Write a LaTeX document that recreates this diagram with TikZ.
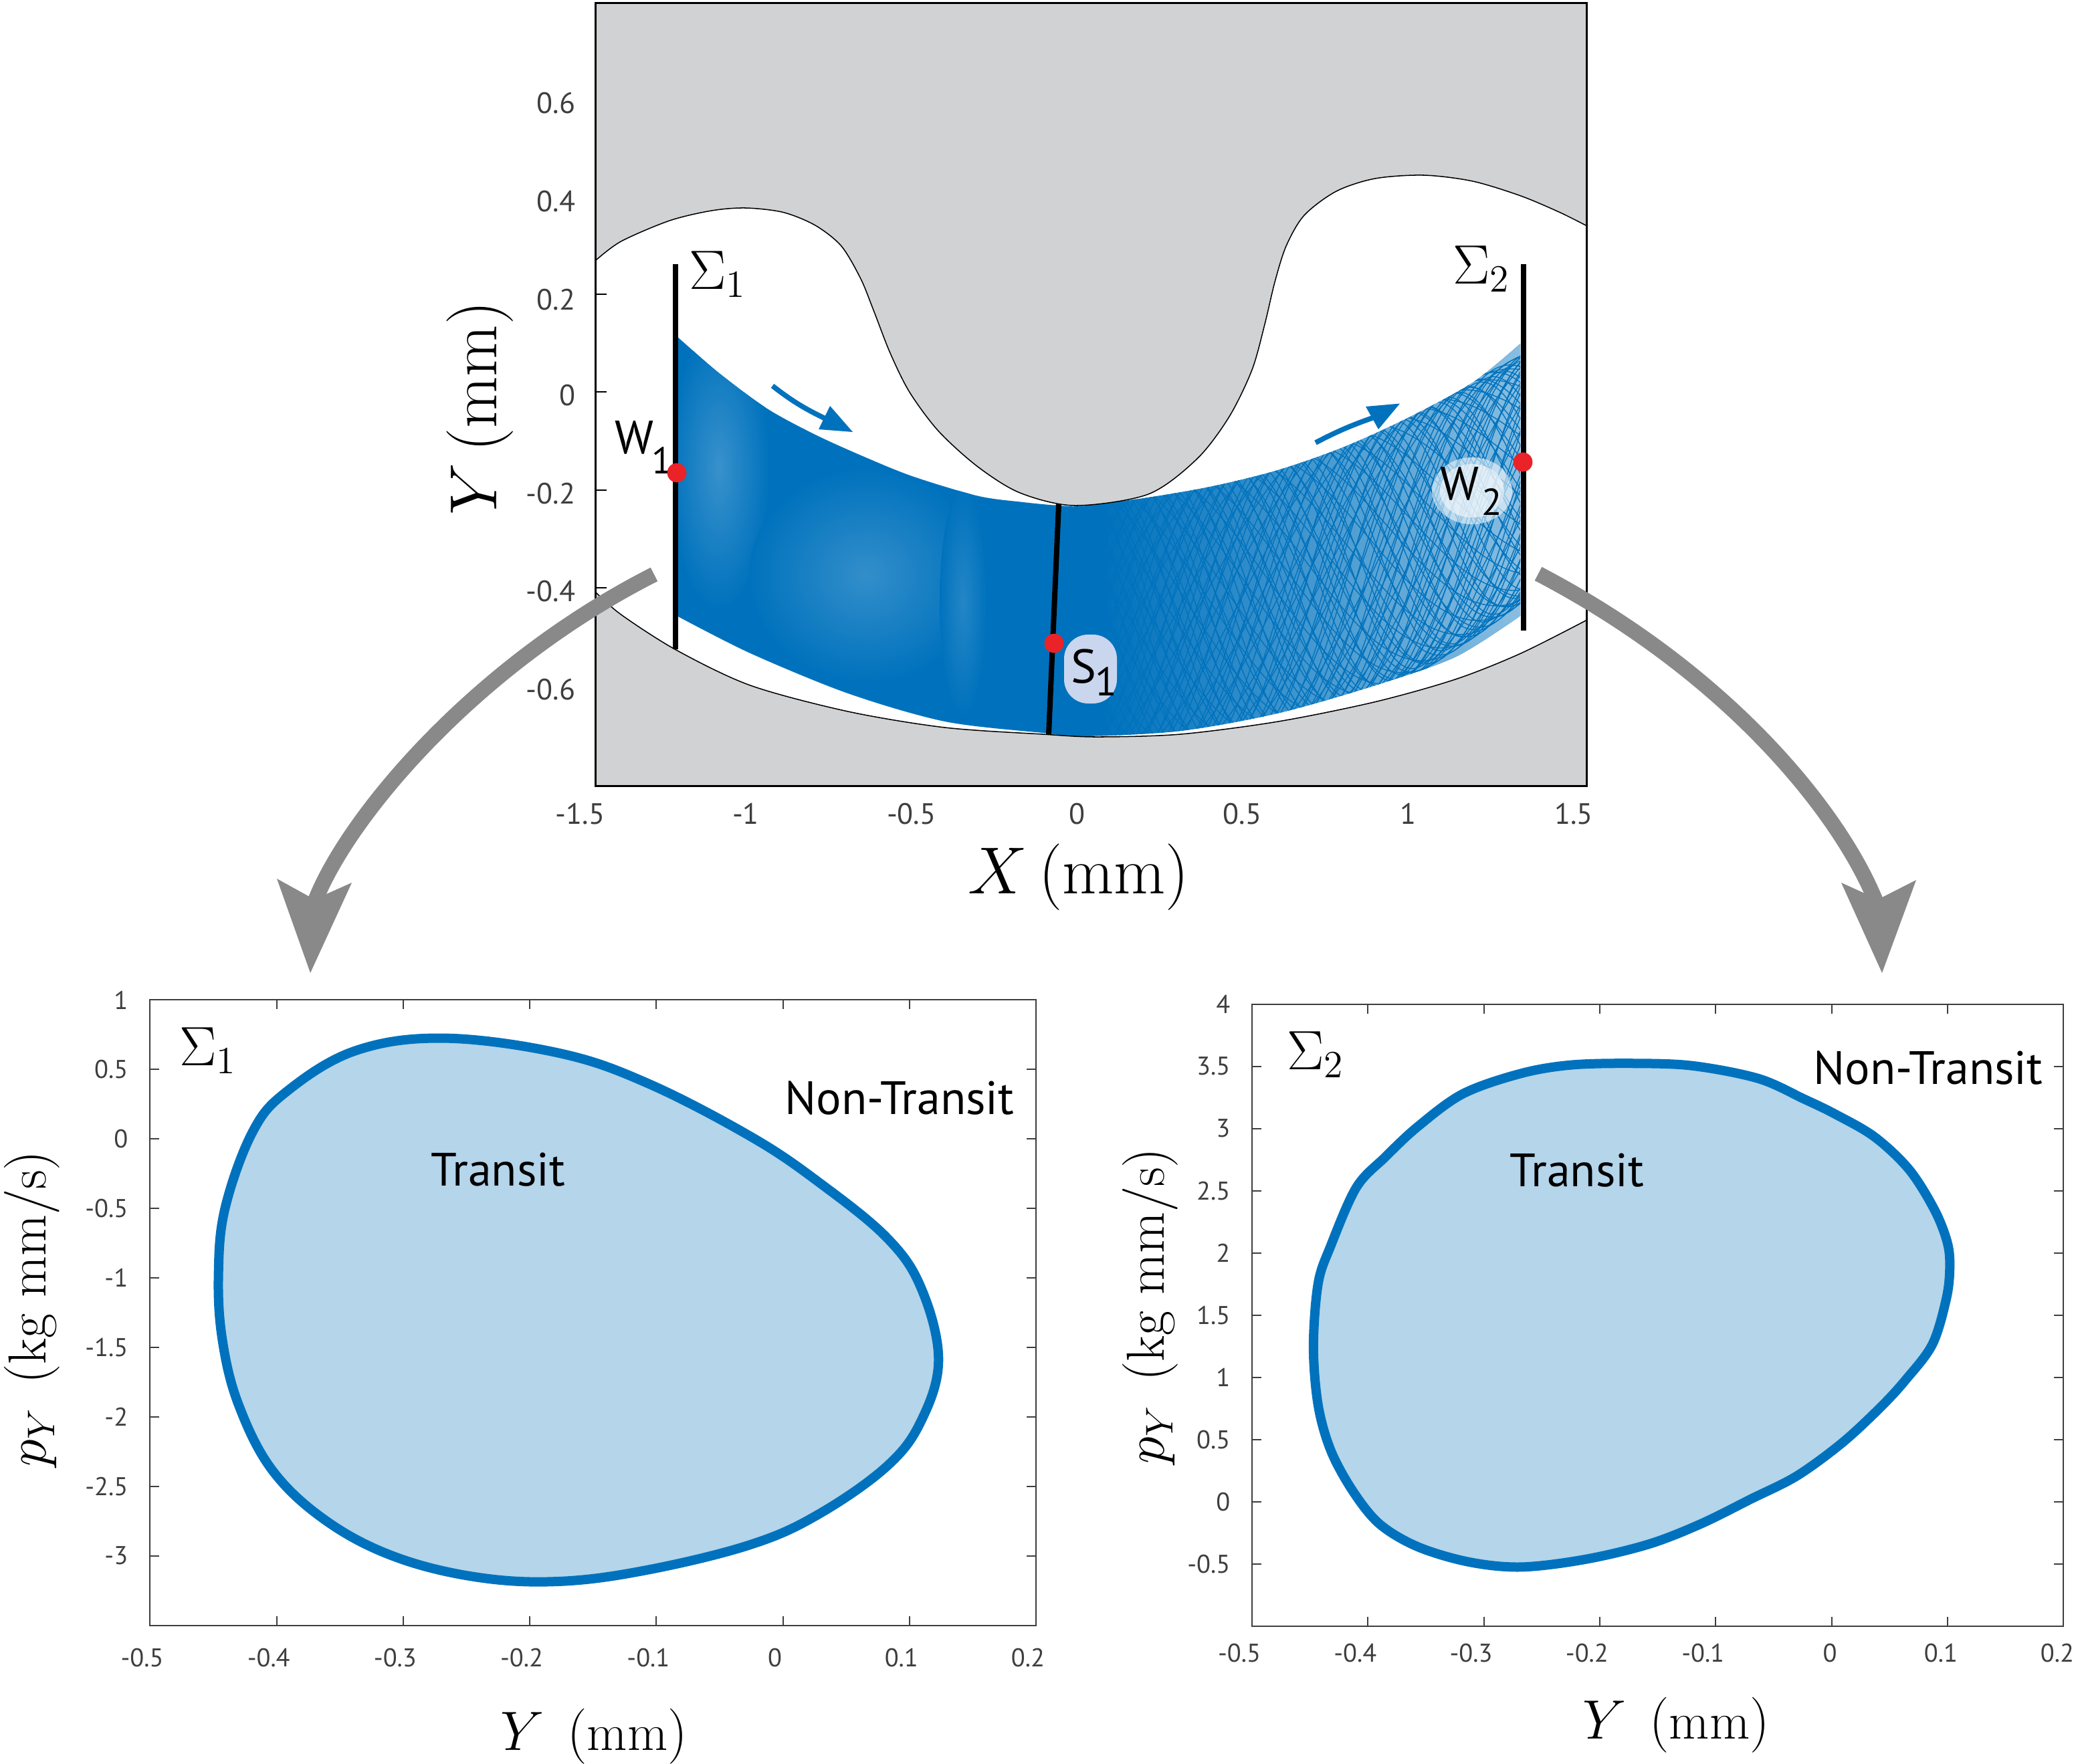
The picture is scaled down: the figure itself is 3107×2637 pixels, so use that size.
\documentclass[tikz,border=0pt]{standalone}
\usepackage{fontspec}
\setsansfont{PT Sans}
\definecolor{mblue}{RGB}{0,114,189}
\definecolor{lblue}{RGB}{180,213,234}
\definecolor{wallgray}{RGB}{209,210,212}
\definecolor{arrgray}{RGB}{137,137,137}
\definecolor{axgray}{RGB}{62,62,62}
\definecolor{dotred}{RGB}{233,35,40}
\definecolor{sbg}{RGB}{202,214,238}
\newcommand{\bandpath}{plot[smooth,tension=0.5] coordinates {(1011,502) (1074,557) (1147,611) (1219,650) (1292,683) (1365,712.5) (1462,741.6) (1530,751) (1583,756) (1620,756.5) (1717,744) (1814,727) (1911,703) (2008,669) (2105,625) (2202,572) (2273,514)} -- plot[smooth,tension=0.5] coordinates {(2273,921) (2177,982) (2056,1025) (1911,1066.5) (1765,1093) (1620,1101) (1559,1096) (1413,1079) (1268,1037) (1122,977) (1012,921)} -- cycle}
\tikzset{
  tlab/.style={font=\sffamily\fontsize{11}{13}\selectfont, text=axgray, inner sep=0pt},
  blab/.style={font=\sffamily\fontsize{9.6}{11}\selectfont, text=axgray, inner sep=0pt},
  region/.style={font=\sffamily\fontsize{17.5}{20}\selectfont, inner sep=0pt},
  wletter/.style={font=\sffamily\fontsize{17.5}{20}\selectfont, inner sep=0pt},
  wsubs/.style={font=\sffamily\fontsize{14}{16}\selectfont, inner sep=0pt},
  bound/.style={draw=black, line width=0.38pt},
  secline/.style={draw=black, line width=2pt},
  reddot/.style={circle, fill=dotred, inner sep=0pt, minimum size=7.2pt},
  bigarrow/.style={draw=arrgray, line width=5.75pt},
  axframe/.style={draw=axgray, line width=0.5pt},
  phasecurve/.style={fill=lblue, draw=mblue, line width=3.5pt, line join=round},
  trajline/.style={draw=mblue, line width=0.34pt},
}
\begin{document}
\begin{tikzpicture}[x=0.25pt,y=-0.25pt]
\useasboundingbox (0,0) rectangle (3107,2637);

% ================= top plot =================
\fill[wallgray] (890,4) rectangle (2372,1175);
\fill[white] plot[smooth,tension=0.5] coordinates {(890,390) (928.5,361) (1001,330) (1064,315) (1115,311) (1171,317.5) (1219,337) (1258,368) (1287,417) (1306.5,465) (1331,528) (1360,586.5) (1403.5,645) (1462,698) (1525,737) (1607,756) (1717,739) (1790,686) (1838,623) (1872,553) (1891,485) (1906,422) (1923,368) (1950,322) (1998,286) (2056,267) (2129,262) (2202,271) (2274,293) (2332,317.5) (2371,337)}
  -- plot[smooth,tension=0.5] coordinates {(2371,928) (2274,977) (2177,1015.6) (2056,1049.6) (1911,1079) (1765,1098) (1640,1102) (1559,1098) (1413,1088) (1268,1064) (1122,1025) (1011,972) (928.5,919) (890,885)} -- cycle;
\foreach \yy in {440,586,732.6,879} \draw[line width=0.5pt] (890,\yy) -- ++(4.25pt,0pt);

% trajectory band
\fill[mblue] \bandpath;
\begin{scope}
  \clip \bandpath;
  \shade[inner color=mblue!78!white, outer color=mblue] (1075,700) ellipse (75 and 210);
  \shade[inner color=mblue!80!white, outer color=mblue] (1295,860) ellipse (175 and 160);
  \shade[inner color=mblue!86!white, outer color=mblue] (1440,900) ellipse (35 and 170);
  \shade[left color=mblue, middle color=mblue!72!white, right color=mblue!45!white] (1650,300) rectangle (2290,1200);
  \foreach \ph in {0,14,...,346} {
    \draw[trajline] plot[domain=-0.08:1.03, samples=50, smooth] ({1620+653*\x},{929-211.5*\x*\x+1.3*(173-30.5*\x*\x)*sin(\ph+430*\x)});
    \draw[trajline] plot[domain=-0.08:1.03, samples=50, smooth] ({1620+653*\x},{929-211.5*\x*\x+1.3*(173-30.5*\x*\x)*sin(\ph+7+290*\x)});
    \draw[trajline] plot[domain=-0.08:1.03, samples=50, smooth] ({1620+653*\x},{929-211.5*\x*\x+1.25*(173-30.5*\x*\x)*sin(\ph+3+560*\x)});
  }
\end{scope}

% channel walls
\draw[bound] plot[smooth,tension=0.5] coordinates {(890,390) (928.5,361) (1001,330) (1064,315) (1115,311) (1171,317.5) (1219,337) (1258,368) (1287,417) (1306.5,465) (1331,528) (1360,586.5) (1403.5,645) (1462,698) (1525,737) (1607,756) (1717,739) (1790,686) (1838,623) (1872,553) (1891,485) (1906,422) (1923,368) (1950,322) (1998,286) (2056,267) (2129,262) (2202,271) (2274,293) (2332,317.5) (2371,337)};
\draw[bound] plot[smooth,tension=0.5] coordinates {(2371,928) (2274,977) (2177,1015.6) (2056,1049.6) (1911,1079) (1765,1098) (1640,1102) (1559,1098) (1413,1088) (1268,1064) (1122,1025) (1011,972) (928.5,919) (890,885)};
\draw[line width=0.75pt] (890,4) rectangle (2372,1175);

% sections
\coordinate (s1top) at (1010,395); \coordinate (s1bot) at (1010,971);
\coordinate (s2top) at (2278,395); \coordinate (s2bot) at (2278,943);
\coordinate (sstop) at (1583,754); \coordinate (ssbot) at (1568,1098);
\draw[secline] (s1top) -- (s1bot);
\draw[secline] (s2top) -- (s2bot);
\draw[secline] (sstop) -- (ssbot);

% labels on sections
\node[font=\fontsize{20}{22}\selectfont, inner sep=0pt] (sig1top) at (1073,410) {$\Sigma_1$};
\node[font=\fontsize{20}{22}\selectfont, inner sep=0pt] (sig2top) at (2215,402) {$\Sigma_2$};
\node[wletter] (w1) at (948,654.5) {W};
\node[wsubs] (w1s) at (990,689) {1};
\fill[white, opacity=0.55] (2201,734) ellipse (60 and 50);
\fill[white!85!sbg, opacity=0.6] (2201,734) ellipse (48 and 40);
\node[wletter] (w2) at (2182,723.5) {W};
\node[wsubs] (w2s) at (2231,751) {2};
\node[fill=sbg, rounded corners=9pt, minimum width=19.75pt, minimum height=25.75pt, inner sep=0pt] (s1bg) at (1630.5,1000.5) {};
\node[font=\sffamily\fontsize{17.8}{20}\selectfont, inner sep=0pt] (s1l) at (1620,997) {S};
\node[font=\sffamily\fontsize{15}{18}\selectfont, inner sep=0pt] (s1s) at (1654,1019) {1};

\node[reddot] (dW1) at (1012,707) {};
\node[reddot] (dW2) at (2277,691) {};
\node[reddot] (dS1) at (1576,962) {};

% blue flow arrows
\coordinate (ba1s) at (1155,577); \coordinate (ba1e) at (1234,626);
\draw[mblue, line width=1.9pt] (ba1s) to[bend right=6] (ba1e);
\fill[mblue] (1275,646) -- (1241,607) -- (1224,642) -- cycle;
\coordinate (ba2s) at (1967,662); \coordinate (ba2e) at (2052,625);
\draw[mblue, line width=1.9pt] (ba2s) to[bend left=4] (ba2e);
\fill[mblue] (2093,603.5) -- (2042,608) -- (2061,642) -- cycle;

% top tick labels
\foreach \lbl/\xx [count=\i] in {-1.5/867.5,-1/1115,-0.5/1362.6,0/1610,0.5/1857.6,1/2105,1.5/2353}
  \node[tlab] (tx\i) at (\xx,1217) {\lbl};
\foreach \lbl/\yy [count=\i] in {0.6/154,0.4/301,0.2/447.6,0/591,-0.2/737.8,-0.4/884.4,-0.6/1031}
  \node[tlab, anchor=east] (ty\i) at (861,\yy) {\lbl};
\node[font=\fontsize{25}{28}\selectfont, inner sep=0pt] (xlabtop) at (1613,1312) {$X\,(\mathrm{mm})$};
\node[font=\fontsize{25}{28}\selectfont, inner sep=0pt, rotate=90] (ylabtop) at (717.5,610.5) {$Y\,(\mathrm{mm})$};

% ================= bottom left plot =================
\begin{scope}[shift={(1170.55,1703.2)}, x=473.03pt, y=51.95pt]
  \filldraw[phasecurve] plot[smooth cycle, tension=0.62] coordinates {(-0.446,-0.969) (-0.4407,-0.495) (-0.419,0.051) (-0.392,0.342) (-0.338,0.634) (-0.268,0.725) (-0.176,0.616) (-0.106,0.397) (-0.025,0.015) (0.0286,-0.313) (0.0825,-0.714) (0.1095,-1.078) (0.123,-1.588) (0.1095,-2.025) (0.0825,-2.353) (0.0286,-2.699) (-0.025,-2.918) (-0.106,-3.100) (-0.176,-3.184) (-0.241,-3.155) (-0.306,-3.009) (-0.360,-2.754) (-0.403,-2.390) (-0.430,-1.916) (-0.443,-1.443)};
  \draw[axframe] (-0.5,1) rectangle (0.2,-3.5);
  \foreach \v in {-0.4,-0.3,-0.2,-0.1,0,0.1} {
    \draw[axframe] (\v,-3.5) -- ++(0pt,3.5pt);
    \draw[axframe] (\v,1) -- ++(0pt,-3.5pt);
  }
  \foreach \v in {0.5,0,-0.5,-1,-1.5,-2,-2.5,-3} {
    \draw[axframe] (-0.5,\v) -- ++(3.5pt,0pt);
    \draw[axframe] (0.2,\v) -- ++(-3.5pt,0pt);
  }
\end{scope}
\foreach \lbl/\xx [count=\i] in {-0.5/224.5,-0.4/413.7,-0.3/602.9,-0.2/792.1,-0.1/981.4,0/1170.6,0.1/1359.8,0.2/1549}
  \node[blab] (lx\i) at (\xx-12,2479.5) {\lbl};
\foreach \lbl/\yy [count=\i] in {1/1495.4,0.5/1599.3,0/1703.2,-0.5/1807.1,-1/1911,-1.5/2014.9,-2/2118.8,-2.5/2222.7,-3/2326.6}
  \node[blab, anchor=east] (ly\i) at (192,\yy) {\lbl};
\node[font=\fontsize{22}{24}\selectfont, inner sep=0pt] (sig1b) at (311,1571) {$\Sigma_1$};
\node[region] (nt1) at (1345,1642) {Non-Transit};
\node[region] (tr1) at (745,1749) {Transit};
\node[font=\fontsize{19.5}{22}\selectfont, inner sep=0pt] (xlab1) at (888,2597) {$Y\hspace{0.45em}(\mathrm{mm})$};
\node[font=\fontsize{20}{22}\selectfont, inner sep=0pt, rotate=90] (ylab1) at (48,1957) {$p_Y\hspace{0.45em}(\mathrm{kg\ mm/s})$};

% ================= bottom right plot =================
\begin{scope}[shift={(2738.5,2245.74)}, x=433.25pt, y=46.515pt]
  \filldraw[phasecurve] plot[smooth cycle, tension=0.55] coordinates {(-0.447,1.245) (-0.443,1.753) (-0.432,2.059) (-0.410,2.526) (-0.385,2.771) (-0.357,3.015) (-0.318,3.279) (-0.268,3.442) (-0.224,3.511) (-0.169,3.523) (-0.119,3.503) (-0.063,3.401) (-0.024,3.238) (0.003,3.116) (0.037,2.933) (0.067,2.669) (0.089,2.343) (0.100,2.079) (0.102,1.875) (0.099,1.631) (0.087,1.265) (0.064,0.980) (0.042,0.757) (0.009,0.472) (-0.030,0.207) (-0.069,0.024) (-0.113,-0.179) (-0.158,-0.342) (-0.213,-0.464) (-0.268,-0.525) (-0.313,-0.484) (-0.357,-0.362) (-0.390,-0.179) (-0.413,0.085) (-0.432,0.411) (-0.443,0.777)};
  \draw[axframe] (-0.5,4) rectangle (0.2,-1);
  \foreach \v in {-0.4,-0.3,-0.2,-0.1,0,0.1} {
    \draw[axframe] (\v,-1) -- ++(0pt,3.5pt);
    \draw[axframe] (\v,4) -- ++(0pt,-3.5pt);
  }
  \foreach \v in {3.5,3,2.5,2,1.5,1,0.5,0,-0.5} {
    \draw[axframe] (-0.5,\v) -- ++(3.5pt,0pt);
    \draw[axframe] (0.2,\v) -- ++(-3.5pt,0pt);
  }
\end{scope}
\foreach \lbl/\xx [count=\i] in {-0.5/1853,-0.4/2026.3,-0.3/2199.6,-0.2/2372.9,-0.1/2546.2,0/2736,0.1/2902,0.2/3076}
  \node[blab] (rx\i) at (\xx,2472) {\lbl};
\foreach \lbl/\yy [count=\i] in {4/1501.5,3.5/1594.5,3/1687.6,2.5/1780.6,2/1873.6,1.5/1966.7,1/2059.7,0.5/2152.7,0/2245.7,-0.5/2338.8}
  \node[blab, anchor=east] (ry\i) at (1840,\yy) {\lbl};
\node[font=\fontsize{22}{24}\selectfont, inner sep=0pt] (sig2b) at (1967,1577) {$\Sigma_2$};
\node[region] (nt2) at (2883,1597) {Non-Transit};
\node[region] (tr2) at (2358,1750) {Transit};
\node[font=\fontsize{19.5}{22}\selectfont, inner sep=0pt] (xlab2) at (2506,2580) {$Y\hspace{0.45em}(\mathrm{mm})$};
\node[font=\fontsize{20}{22}\selectfont, inner sep=0pt, rotate=90] (ylab2) at (1720,1953) {$p_Y\hspace{0.45em}(\mathrm{kg\ mm/s})$};

% ================= big grey arrows =================
\coordinate (gl0) at (978,859); \coordinate (gl1) at (466,1362);
\draw[bigarrow] (gl0) .. controls (700,1000) and (505,1240) .. (gl1);
\fill[arrgray] (464,1455) -- (414,1314) -- (470,1345) -- (526,1320) -- cycle;
\coordinate (gr0) at (2300,858); \coordinate (gr1) at (2810,1362);
\draw[bigarrow] (gr0) .. controls (2600,1015) and (2765,1235) .. (gr1);
\fill[arrgray] (2814,1455) -- (2753,1320) -- (2808,1345) -- (2865,1316) -- cycle;
\end{tikzpicture}
\end{document}
